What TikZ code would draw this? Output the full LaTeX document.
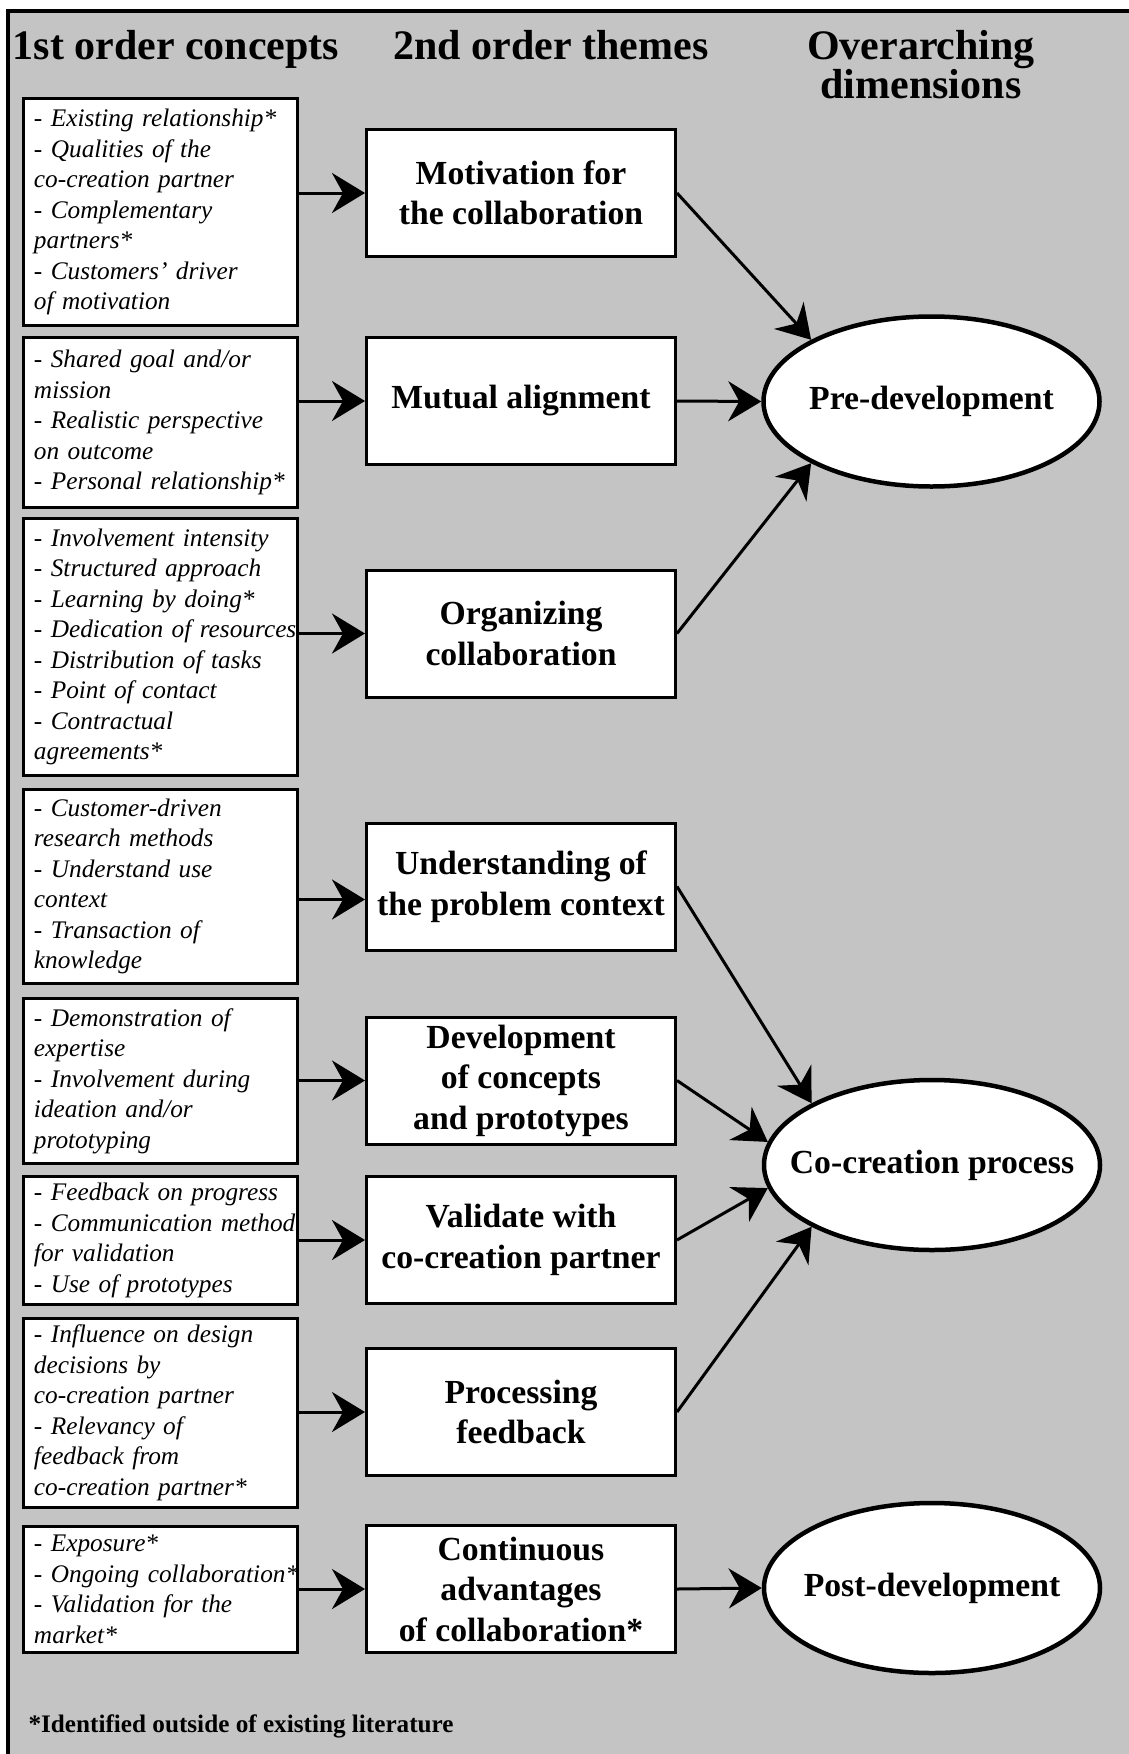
\documentclass[tikz,border=0pt]{standalone}
\usepackage{fontspec}
\setmainfont{Liberation Serif}
\usetikzlibrary{arrows.meta,shapes.geometric}
\definecolor{bgray}{RGB}{196,196,196}
\newcommand{\lnline}[1]{\mbox{#1}}
\newcommand{\zbox}[1]{\makebox[0pt]{#1}}
\begin{document}
\begin{tikzpicture}[x=1pt,y=-1pt,
  lbox/.style={draw,line width=3pt,fill=white,rectangle,minimum width=274pt,
    text width=253pt,inner xsep=10.5pt,align=left,
    font=\fontsize{25.3}{30.5}\selectfont\itshape},
  mbox/.style={draw,line width=3pt,fill=white,rectangle,minimum width=309pt,
    minimum height=127pt,align=center,inner sep=2pt,
    font=\fontsize{33.7}{40.5}\selectfont\bfseries},
  dim/.style={draw,line width=4.5pt,fill=white,ellipse,minimum width=336pt,
    minimum height=170pt,inner sep=0pt,font=\fontsize{33.7}{40.5}\selectfont\bfseries},
  head/.style={anchor=base,align=center,font=\fontsize{42}{39.5}\selectfont\bfseries},
  arr/.style={line width=3pt,-{Stealth[length=33pt,width=40pt,inset=11pt]}}
]
\useasboundingbox (0,0) rectangle (1129,1754);
\fill[bgray] (8,10.5) rectangle (1129,1754);
\draw[line width=4pt] (8,1754) -- (8,10.5) -- (1129,10.5);

\node[head] (h1) at (176,59) {1st order concepts};
\node[head] (h2) at (551,59) {2nd order themes};
\node[head] (h3) at (921,59) {Overarching};
\node[head] (h4) at (921,98.5) {dimensions};

\node[lbox,minimum height=227pt] (L1) at (160.5,212) {\lnline{- Existing relationship*}\\\lnline{- Qualities of the}\\\lnline{co-creation partner}\\\lnline{- Complementary}\\\lnline{partners*}\\\lnline{- Customers' driver}\\\lnline{of motivation}};
\node[lbox,minimum height=170pt] (L2) at (160.5,422.5) {\lnline{- Shared goal and/or}\\\lnline{mission}\\\lnline{- Realistic perspective}\\\lnline{on outcome}\\\lnline{- Personal relationship*}};
\node[lbox,minimum height=257pt] (L3) at (160.5,647) {\lnline{- Involvement intensity}\\\lnline{- Structured approach}\\\lnline{- Learning by doing*}\\\lnline{- Dedication of resources}\\\lnline{- Distribution of tasks}\\\lnline{- Point of contact}\\\lnline{- Contractual}\\\lnline{agreements*}};
\node[lbox,minimum height=194pt] (L4) at (160.5,886.5) {\lnline{- Customer-driven}\\\lnline{research methods}\\\lnline{- Understand use}\\\lnline{context}\\\lnline{- Transaction of}\\\lnline{knowledge}};
\node[lbox,minimum height=165pt] (L5) at (160.5,1081) {\lnline{- Demonstration of}\\\lnline{expertise}\\\lnline{- Involvement during}\\\lnline{ideation and/or}\\\lnline{prototyping}};
\node[lbox,minimum height=128pt] (L6) at (160.5,1240.5) {\lnline{- Feedback on progress}\\\lnline{- Communication method}\\\lnline{for validation}\\\lnline{- Use of prototypes}};
\node[lbox,minimum height=189pt] (L7) at (160.5,1413) {\lnline{- Influence on design}\\\lnline{decisions by}\\\lnline{co-creation partner}\\\lnline{- Relevancy of}\\\lnline{feedback from}\\\lnline{co-creation partner*}};
\node[lbox,minimum height=126pt] (L8) at (160.5,1589.5) {\lnline{- Exposure*}\\\lnline{- Ongoing collaboration*}\\\lnline{- Validation for the}\\\lnline{market*}};

\node[mbox] (M1) at (521,193) {Motivation for\\the collaboration};
\node[mbox] (M2) at (521,401) {Mutual alignment};
\node[mbox] (M3) at (521,633.5) {Organizing\\collaboration};
\node[mbox] (M4) at (521,886.5) {Understanding of\\the problem context};
\node[mbox] (M5) at (521,1080.5) {Development\\of concepts\\and prototypes};
\node[mbox] (M6) at (521,1240) {Validate with\\co-creation partner};
\node[mbox] (M7) at (521,1412) {Processing\\feedback};
\node[mbox] (M8) at (521,1589) {Continuous\\advantages\\of collaboration*};

\node[dim] (D1) at (931.5,401.5) {\zbox{Pre-development}};
\node[dim] (D2) at (932,1165) {\zbox{Co-creation process}};
\node[dim] (D3) at (932,1588) {\zbox{Post-development}};

\draw[arr] (M1.west -| L1.east) -- (M1.west);
\draw[arr] (M2.west -| L2.east) -- (M2.west);
\draw[arr] (M3.west -| L3.east) -- (M3.west);
\draw[arr] ([yshift=-13pt]M4.west -| L4.east) -- ([yshift=-13pt]M4.west);
\draw[arr] (M5.west -| L5.east) -- (M5.west);
\draw[arr] (M6.west -| L6.east) -- (M6.west);
\draw[arr] (M7.west -| L7.east) -- (M7.west);
\draw[arr] (M8.west -| L8.east) -- (M8.west);

\draw[arr] (M1.east) -- (D1.north west);
\draw[arr] (M2.east) -- (D1.west);
\draw[arr] (M3.east) -- (D1.south west);
\draw[arr] (M4.east) -- (D2.north west);
\draw[arr] (M5.east) -- (D2.172);
\draw[arr] (M6.east) -- (D2.188);
\draw[arr] (M7.east) -- (D2.south west);
\draw[arr] (M8.east) -- (D3.west);

\node[anchor=base west,font=\fontsize{25.2}{30}\selectfont\bfseries] (fn) at (25,1732) {*Identified outside of existing literature};
\end{tikzpicture}
\end{document}
